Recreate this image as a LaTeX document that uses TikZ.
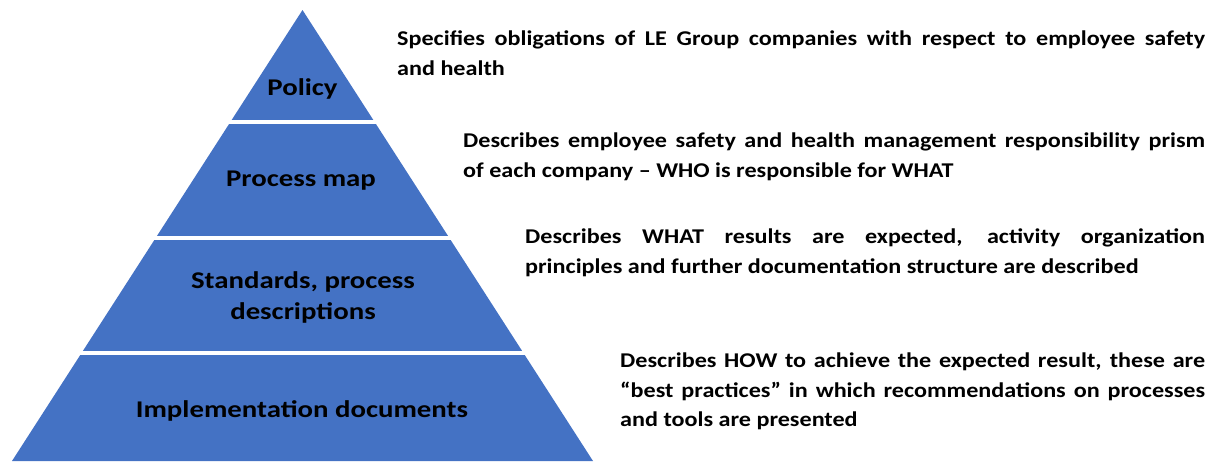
\documentclass[tikz,border=0pt]{standalone}
\usepackage{fontspec}
\setmainfont{Carlito}
\newfontfamily\notefont[FakeStretch=1.15,Ligatures=TeX]{Carlito}
\newfontfamily\tierfont[FakeStretch=1.2,Ligatures=TeX]{Carlito}
\definecolor{pyrblue}{HTML}{4472C4}
\hbadness=10000
\begin{document}
\begin{tikzpicture}[x=1pt,y=-1pt,
  tier/.style={font=\tierfont\bfseries\fontsize{24}{31}\selectfont, align=center, text=black, inner sep=0pt},
  note/.style={font=\notefont\bfseries\fontsize{21}{29.5}\selectfont, align=justify, anchor=north west, inner sep=0pt, text=black},
  gap/.style={fill=white}]
\useasboundingbox (0,0) rectangle (1220,461);

% pyramid body, split into four tiers by white bands
\fill[pyrblue] (302.5,10) -- (593,461) -- (12,461) -- cycle;
\fill[gap] (0,119.5) rectangle (620,124);
\fill[gap] (0,236) rectangle (620,240);
\fill[gap] (0,350.5) rectangle (620,355);

% tier labels
\node[tier] (policy) at (302.5,89) {Policy};
\node[tier] (procmap) at (301,181) {Process map};
\node[tier] (standards) at (303,297) {Standards, process\\descriptions};
\node[tier] (impl) at (302,411) {Implementation documents};

% descriptions
\node[note, text width=808pt] (d1) at (397,31) {Specifies obligations of LE Group companies with respect to employee safety\linebreak and health};
\node[note, text width=742pt] (d2) at (463,133) {\baselineskip=31pt Describes employee safety and health management responsibility prism\linebreak of each company – WHO is responsible for WHAT};
\node[note, text width=680pt] (d3) at (525,229) {Describes WHAT results are expected, activity organization\linebreak principles and further documentation structure are described};
\node[note, text width=585pt] (d4) at (620,353) {\baselineskip=30.5pt Describes HOW to achieve the expected result, these are\linebreak “best practices” in which recommendations on processes\linebreak and tools are presented};
\end{tikzpicture}
\end{document}
